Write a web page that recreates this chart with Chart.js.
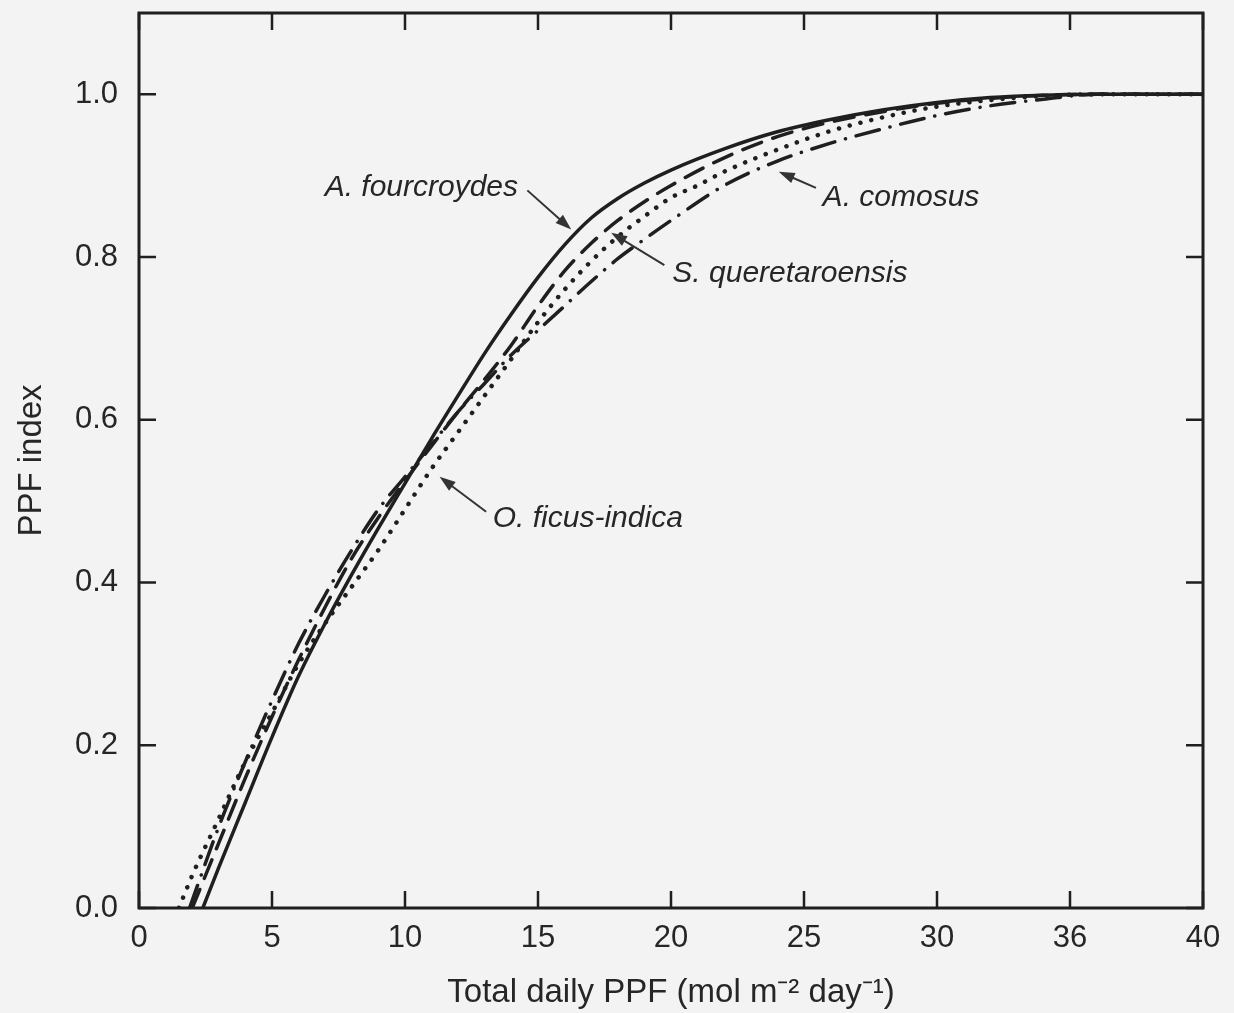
<!DOCTYPE html>
<html>
<head>
<meta charset="utf-8">
<script src="https://cdn.jsdelivr.net/npm/chart.js@4.4.1/dist/chart.umd.min.js"></script>
<style>
  html, body { margin: 0; padding: 0; background: #f3f3f3; }
</style>
</head>
<body>
<canvas id="ppfChart" width="1234" height="1013"></canvas>
<script>
// axis ticks
const xTickValues = [0, 5, 10, 15, 20, 25, 30, 35, 40];
const xTickLabels = ['0', '5', '10', '15', '20', '25', '30', '36', '40'];
const yTickValues = [0, 0.2, 0.4, 0.6, 0.8, 1.0];

// A. fourcroydes (solid)
const fourcroydesX = [2.4, 3, 4, 5, 6, 7, 8, 9, 10, 11, 12, 13, 14, 15, 16, 17, 18, 19, 20, 22, 24, 26, 28, 30, 32, 34, 36, 40];
const fourcroydesY = [0, 0.05, 0.13, 0.21, 0.285, 0.35, 0.41, 0.467, 0.522, 0.577, 0.63, 0.682, 0.73, 0.775, 0.815, 0.848, 0.872, 0.891, 0.907, 0.933, 0.954, 0.969, 0.981, 0.99, 0.996, 0.999, 1.0, 1.0];

// S. queretaroensis (dashed)
const queretaroensisX = [2, 3, 4, 5, 6, 7, 8, 9, 10, 11, 12, 13, 14, 15, 16, 17, 18, 19, 20, 22, 24, 26, 28, 30, 32, 34, 36, 40];
const queretaroensisY = [0, 0.08, 0.16, 0.235, 0.305, 0.37, 0.43, 0.48, 0.525, 0.568, 0.61, 0.65, 0.692, 0.74, 0.783, 0.817, 0.845, 0.868, 0.888, 0.922, 0.948, 0.966, 0.979, 0.989, 0.995, 0.999, 1.0, 1.0];

// O. ficus-indica (dotted)
const ficusX = [1.5, 2, 3, 4, 5, 6, 7, 8, 9, 10, 11, 12, 13, 14, 15, 16, 17, 18, 19, 20, 21, 22, 24, 26, 28, 30, 32, 34, 36, 40];
const ficusY = [0, 0.04, 0.11, 0.18, 0.24, 0.3, 0.35, 0.395, 0.44, 0.49, 0.54, 0.585, 0.63, 0.675, 0.72, 0.76, 0.795, 0.825, 0.85, 0.873, 0.888, 0.905, 0.932, 0.955, 0.972, 0.985, 0.993, 0.998, 1.0, 1.0];

// A. comosus (dash-dot)
const comosusX = [1.9, 3, 4, 5, 6, 7, 8, 9, 10, 11, 12, 13, 14, 15, 16, 17, 18, 19, 20, 22, 24, 26, 28, 30, 32, 34, 36, 40];
const comosusY = [0, 0.1, 0.18, 0.255, 0.325, 0.385, 0.44, 0.49, 0.53, 0.57, 0.61, 0.645, 0.68, 0.71, 0.74, 0.77, 0.798, 0.822, 0.845, 0.888, 0.918, 0.94, 0.958, 0.974, 0.986, 0.994, 1.0, 1.0];

// curve labels: text, text anchor, arrow start, arrow end (data units)
const labelTexts = ['A. fourcroydes', 'A. comosus', 'S. queretaroensis', 'O. ficus-indica'];
const labelAnchors = [[14.25, 0.885, 'right'], [25.7, 0.873, 'left'], [20.05, 0.78, 'left'], [13.3, 0.478, 'left']];
const arrowStarts = [[14.6, 0.882], [25.45, 0.885], [19.75, 0.79], [13.05, 0.487]];
const arrowEnds = [[16.25, 0.834], [24.05, 0.905], [17.75, 0.83], [11.3, 0.53]];

const ink = '#1f1f1f';
const fontFamily = '"Liberation Sans", Arial, Helvetica, sans-serif';

function toPoints(xs, ys) {
  return xs.map((x, i) => ({ x: x, y: ys[i] }));
}

function drawArrow(ctx, x1, y1, x2, y2) {
  const angle = Math.atan2(y2 - y1, x2 - x1);
  const head = 16;
  ctx.beginPath();
  ctx.moveTo(x1, y1);
  ctx.lineTo(x2 - Math.cos(angle) * head * 0.8, y2 - Math.sin(angle) * head * 0.8);
  ctx.stroke();
  ctx.beginPath();
  ctx.moveTo(x2, y2);
  ctx.lineTo(x2 - head * Math.cos(angle) + 5.5 * Math.sin(angle), y2 - head * Math.sin(angle) - 5.5 * Math.cos(angle));
  ctx.lineTo(x2 - head * Math.cos(angle) - 5.5 * Math.sin(angle), y2 - head * Math.sin(angle) + 5.5 * Math.cos(angle));
  ctx.closePath();
  ctx.fill();
}

// background colour of the scanned page
const backgroundPlugin = {
  id: 'pageBackground',
  beforeDraw(chart) {
    const ctx = chart.ctx;
    ctx.save();
    ctx.fillStyle = '#f3f3f3';
    ctx.fillRect(0, 0, chart.width, chart.height);
    ctx.restore();
  }
};

// frame, inward ticks on all four sides, labels with arrows
const framePlugin = {
  id: 'frameAndLabels',
  afterDatasetsDraw(chart) {
    const ctx = chart.ctx;
    const area = chart.chartArea;
    const xs = chart.scales.x;
    const ys = chart.scales.y;
    const tick = 17;
    ctx.save();
    ctx.strokeStyle = ink;
    ctx.fillStyle = ink;
    ctx.lineWidth = 3;
    ctx.strokeRect(area.left, area.top, area.right - area.left, area.bottom - area.top);

    ctx.lineWidth = 2.5;
    ctx.beginPath();
    xTickValues.forEach(v => {
      const px = xs.getPixelForValue(v);
      ctx.moveTo(px, area.bottom);
      ctx.lineTo(px, area.bottom - tick);
      ctx.moveTo(px, area.top);
      ctx.lineTo(px, area.top + tick);
    });
    yTickValues.forEach(v => {
      const py = ys.getPixelForValue(v);
      ctx.moveTo(area.left, py);
      ctx.lineTo(area.left + tick, py);
      ctx.moveTo(area.right, py);
      ctx.lineTo(area.right - tick, py);
    });
    ctx.stroke();

    ctx.font = 'italic 30px ' + fontFamily;
    ctx.textBaseline = 'middle';
    ctx.fillStyle = '#262626';
    labelTexts.forEach((text, i) => {
      const a = labelAnchors[i];
      ctx.textAlign = a[2];
      ctx.fillText(text, xs.getPixelForValue(a[0]), ys.getPixelForValue(a[1]));
    });

    ctx.lineWidth = 2;
    ctx.strokeStyle = '#333';
    ctx.fillStyle = '#333';
    arrowStarts.forEach((s, i) => {
      const e = arrowEnds[i];
      drawArrow(ctx, xs.getPixelForValue(s[0]), ys.getPixelForValue(s[1]),
        xs.getPixelForValue(e[0]), ys.getPixelForValue(e[1]));
    });
    ctx.restore();
  }
};

function lineDataset(label, xs, ys, dash, width) {
  return {
    label: label,
    data: toPoints(xs, ys),
    borderColor: ink,
    borderWidth: width,
    borderDash: dash,
    borderCapStyle: 'round',
    pointRadius: 0,
    fill: false,
    cubicInterpolationMode: 'monotone'
  };
}

// Start of main
function main() {
  const ctx = document.getElementById('ppfChart').getContext('2d');
  new Chart(ctx, {
    type: 'line',
    data: {
      datasets: [
        lineDataset('A. comosus', comosusX, comosusY, [24, 11, 0.1, 11], 3.5),
        lineDataset('O. ficus-indica', ficusX, ficusY, [0.1, 11], 4.5),
        lineDataset('S. queretaroensis', queretaroensisX, queretaroensisY, [20, 12], 3.5),
        lineDataset('A. fourcroydes', fourcroydesX, fourcroydesY, [], 3.5)
      ]
    },
    options: {
      responsive: false,
      animation: false,
      devicePixelRatio: 1,
      layout: { padding: { top: 13, right: 31, left: 0, bottom: 0 } },
      plugins: {
        legend: { display: false },
        tooltip: { enabled: false }
      },
      scales: {
        x: {
          type: 'linear',
          min: 0,
          max: 40,
          grid: { display: false },
          border: { display: false },
          afterBuildTicks: scale => {
            scale.ticks = xTickValues.map(v => ({ value: v }));
          },
          afterFit: scale => {
            scale.height = 105;
            scale.paddingLeft = 0;
            scale.paddingRight = 0;
          },
          ticks: {
            padding: 4,
            color: '#262626',
            font: { family: fontFamily, size: 31 },
            maxRotation: 0,
            callback: (value, index) => xTickLabels[index]
          },
          title: {
            display: true,
            text: 'Total daily PPF (mol m\u207B\u00B2 day\u207B\u00B9)',
            color: '#262626',
            font: { family: fontFamily, size: 33 },
            padding: { top: 0, bottom: 0 }
          }
        },
        y: {
          type: 'linear',
          min: 0,
          max: 1.1,
          grid: { display: false },
          border: { display: false },
          afterBuildTicks: scale => {
            scale.ticks = yTickValues.map(v => ({ value: v }));
          },
          afterFit: scale => {
            scale.width = 139;
            scale.paddingTop = 0;
            scale.paddingBottom = 0;
          },
          ticks: {
            padding: 13,
            color: '#262626',
            font: { family: fontFamily, size: 31 },
            callback: value => value.toFixed(1)
          },
          title: {
            display: true,
            text: 'PPF index',
            color: '#262626',
            font: { family: fontFamily, size: 33 },
            padding: { top: 12, bottom: 0 }
          }
        }
      }
    },
    plugins: [backgroundPlugin, framePlugin]
  });
}

main();
// End of main
</script>
</body>
</html>
